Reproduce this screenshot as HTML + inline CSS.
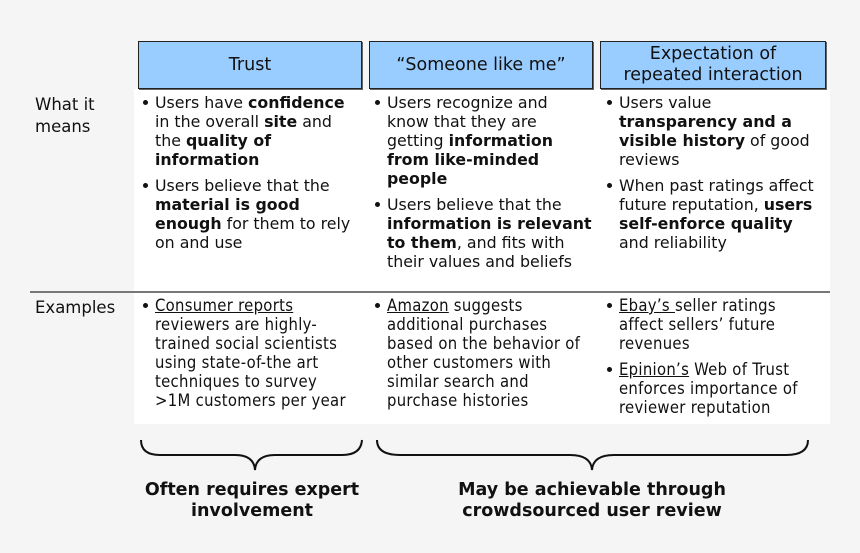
<!DOCTYPE html>
<html><head><meta charset="utf-8"><style>
body{margin:0;width:860px;height:553px;background:#f5f5f5;position:relative;overflow:hidden;font-family:"DejaVu Sans",Verdana,sans-serif;color:#111}
.panel{position:absolute;left:134px;top:89px;width:696px;height:335px;background:#fff}
.hdr{position:absolute;top:41px;height:46px;background:#99ccff;border:1px solid #222;box-shadow:1px 1px 0 #666;display:flex;align-items:center;justify-content:center;text-align:center;font-size:17.5px;line-height:21px}
.lab{position:absolute;left:35px;font-size:16.5px;line-height:22px}
.col{position:absolute;font-size:15.8px;line-height:19px;white-space:nowrap}
.col ul{margin:0;padding:0 0 0 17px;list-style:none}
.col li{position:relative;margin-bottom:7px}
.col li:before{content:"";position:absolute;left:-12px;top:7px;width:5px;height:5px;border-radius:50%;background:#111}
.ex{font-family:"DejaVu Sans Condensed","DejaVu Sans",sans-serif;font-stretch:condensed;font-size:16.5px;letter-spacing:0.3px}
u{text-decoration:underline}
.rule{position:absolute;left:30px;top:291px;width:800px;height:2px;background:#777}
.bt{position:absolute;font-weight:bold;font-size:17.5px;line-height:21px;text-align:center;white-space:nowrap}
</style></head><body>
<div class="panel"></div>
<div class="hdr" style="left:138px;width:222px">Trust</div>
<div class="hdr" style="left:369px;width:222px">“Someone like me”</div>
<div class="hdr" style="left:600px;width:224px">Expectation of<br>repeated interaction</div>
<div class="lab" style="top:94px">What it<br>means</div>
<div class="lab" style="top:297px">Examples</div>
<div class="rule"></div>
<div class="col" style="left:138px;top:93px"><ul>
<li>Users have <b>confidence</b><br>in the overall <b>site</b> and<br>the <b>quality of</b><br><b>information</b></li>
<li>Users believe that the<br><b>material is good</b><br><b>enough</b> for them to rely<br>on and use</li></ul></div>
<div class="col" style="left:370px;top:93px"><ul>
<li>Users recognize and<br>know that they are<br>getting <b>information</b><br><b>from like-minded</b><br><b>people</b></li>
<li>Users believe that the<br><b>information is relevant</b><br><b>to them</b>, and fits with<br>their values and beliefs</li></ul></div>
<div class="col" style="left:602px;top:93px"><ul>
<li>Users value<br><b>transparency and a</b><br><b>visible history</b> of good<br>reviews</li>
<li>When past ratings affect<br>future reputation, <b>users</b><br><b>self-enforce quality</b><br>and reliability</li></ul></div>
<div class="col ex" style="left:138px;top:296px"><ul>
<li><u>Consumer reports</u><br>reviewers are highly-<br>trained social scientists<br>using state-of-the art<br>techniques to survey<br>&gt;1M customers per year</li></ul></div>
<div class="col ex" style="left:370px;top:296px"><ul>
<li><u>Amazon</u> suggests<br>additional purchases<br>based on the behavior of<br>other customers with<br>similar search and<br>purchase histories</li></ul></div>
<div class="col ex" style="left:602px;top:296px"><ul>
<li><u>Ebay’s </u>seller ratings<br>affect sellers’ future<br>revenues</li>
<li><u>Epinion’s</u> Web of Trust<br>enforces importance of<br>reviewer reputation</li></ul></div>
<svg style="position:absolute;left:0;top:0" width="860" height="553">
<path d="M141 440 Q141 455 160 455 L235 455 Q254 455 255 470 Q256 455 275 455 L342 455 Q361 455 362 440" fill="none" stroke="#111" stroke-width="2"/>
<path d="M377 440 Q377 455 400 455 L570 455 Q591 455 592 470 Q593 455 614 455 L786 455 Q808 455 808 440" fill="none" stroke="#111" stroke-width="2"/>
</svg>
<div class="bt" style="left:102px;width:300px;top:480px">Often requires expert<br>involvement</div>
<div class="bt" style="left:420px;width:344px;top:480px">May be achievable through<br>crowdsourced user review</div>
</body></html>
